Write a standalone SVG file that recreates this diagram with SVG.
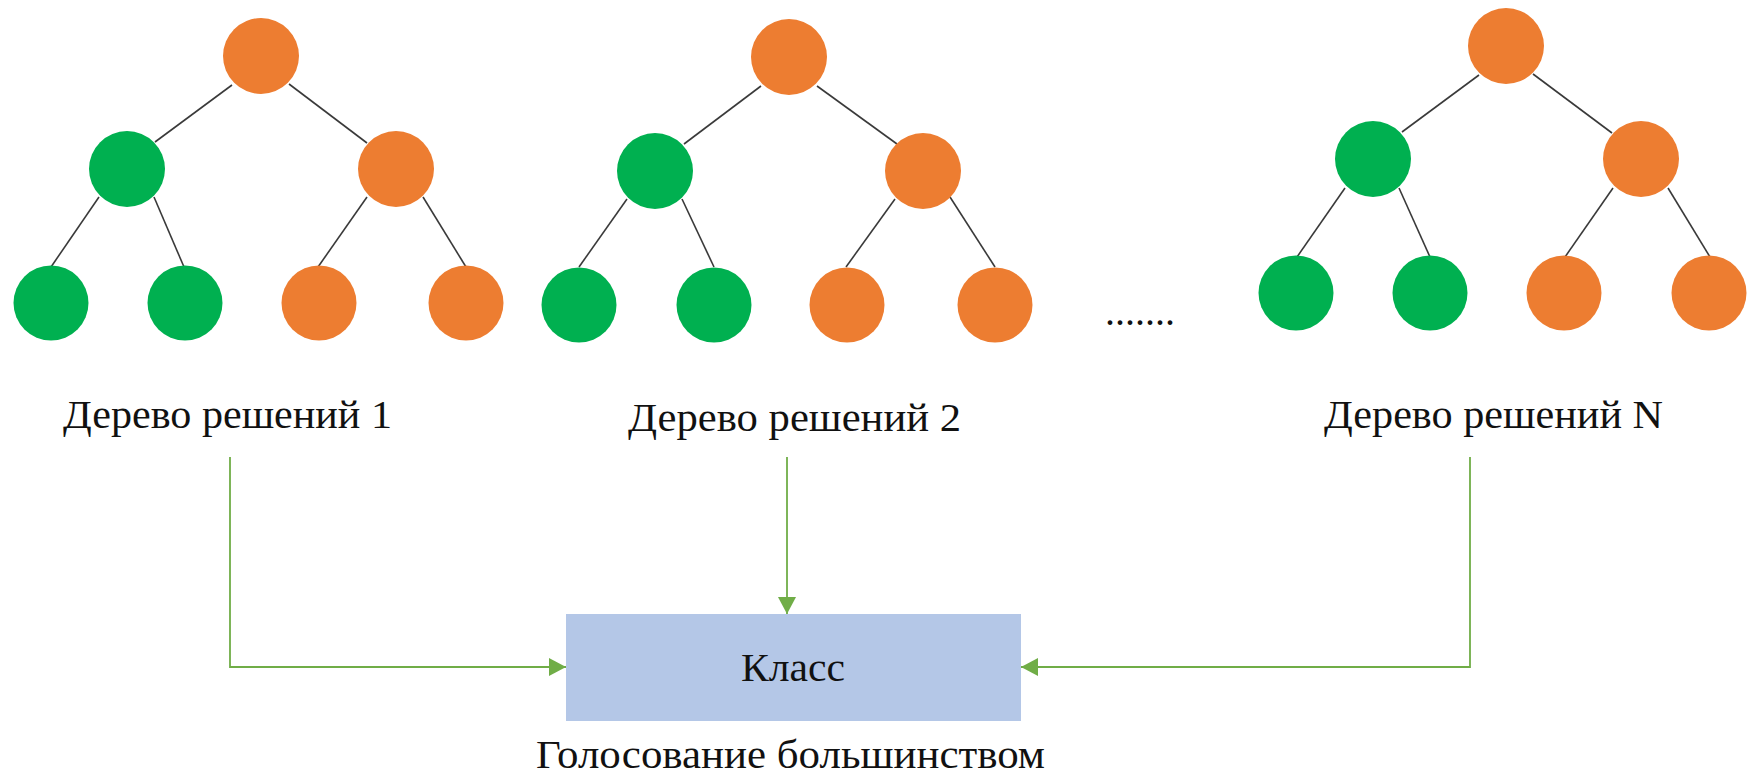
<svg xmlns="http://www.w3.org/2000/svg" width="1747" height="775" viewBox="0 0 1747 775">
<defs>
<style>
.e{stroke:#3a3a3a;stroke-width:1.6;fill:none}
.o{fill:#ED7D31}
.g{fill:#00B050}
.c{stroke:#70AD47;stroke-width:1.8;fill:none}
text{font-family:'Liberation Serif','DejaVu Serif','Noto Serif',serif;font-size:40px;fill:#111}
</style>
<marker id="ah" markerWidth="18" markerHeight="18" refX="17" refY="9" orient="auto" markerUnits="userSpaceOnUse">
<path d="M0,0 L17,9 L0,18 Z" fill="#70AD47"/>
</marker>
</defs>
<rect width="1747" height="775" fill="#fff"/>

<g id="tree1">
<g class="e">
<line x1="232" y1="85" x2="155" y2="142"/>
<line x1="289" y1="84" x2="367" y2="143"/>
<line x1="99" y1="197" x2="51" y2="267"/>
<line x1="154" y1="197" x2="184" y2="267"/>
<line x1="367" y1="197" x2="318" y2="267"/>
<line x1="423" y1="197" x2="466" y2="267"/>
</g>
<circle class="o" cx="261" cy="56" r="38"/>
<circle class="g" cx="127" cy="169" r="38"/>
<circle class="o" cx="396" cy="169" r="38"/>
<circle class="g" cx="51" cy="303" r="37.5"/>
<circle class="g" cx="185" cy="303" r="37.5"/>
<circle class="o" cx="319" cy="303" r="37.5"/>
<circle class="o" cx="466" cy="303" r="37.5"/>
</g>

<g id="tree2">
<g class="e">
<line x1="761" y1="86" x2="684" y2="144"/>
<line x1="817" y1="86" x2="897" y2="144"/>
<line x1="627" y1="199" x2="579" y2="267"/>
<line x1="682" y1="199" x2="714" y2="267"/>
<line x1="895" y1="199" x2="846" y2="267"/>
<line x1="950" y1="197" x2="995" y2="267"/>
</g>
<circle class="o" cx="789" cy="57" r="38"/>
<circle class="g" cx="655" cy="171" r="38"/>
<circle class="o" cx="923" cy="171" r="38"/>
<circle class="g" cx="579" cy="305" r="37.5"/>
<circle class="g" cx="714" cy="305" r="37.5"/>
<circle class="o" cx="847" cy="305" r="37.5"/>
<circle class="o" cx="995" cy="305" r="37.5"/>
</g>

<g id="tree3">
<g class="e">
<line x1="1479" y1="75" x2="1402" y2="132"/>
<line x1="1533" y1="74" x2="1612" y2="133"/>
<line x1="1345" y1="188" x2="1297" y2="257"/>
<line x1="1399" y1="188" x2="1430" y2="257"/>
<line x1="1613" y1="188" x2="1565" y2="257"/>
<line x1="1668" y1="188" x2="1710" y2="257"/>
</g>
<circle class="o" cx="1506" cy="46" r="38"/>
<circle class="g" cx="1373" cy="159" r="38"/>
<circle class="o" cx="1641" cy="159" r="38"/>
<circle class="g" cx="1296" cy="293" r="37.5"/>
<circle class="g" cx="1430" cy="293" r="37.5"/>
<circle class="o" cx="1564" cy="293" r="37.5"/>
<circle class="o" cx="1709" cy="293" r="37.5"/>
</g>

<g id="ellipsis">
<text x="1105" y="325" textLength="70" lengthAdjust="spacing">.......</text>
</g>

<g id="label1"><text font-family="Liberation Serif, DejaVu Serif, serif" x="63" y="428" textLength="329" lengthAdjust="spacingAndGlyphs">Дерево решений 1</text></g>
<g id="label2"><text font-family="Liberation Serif, DejaVu Serif, serif" x="628" y="431" textLength="333" lengthAdjust="spacingAndGlyphs">Дерево решений 2</text></g>
<g id="labelN"><text font-family="Liberation Serif, DejaVu Serif, serif" x="1324" y="428" textLength="339" lengthAdjust="spacingAndGlyphs">Дерево решений N</text></g>

<g id="class-box">
<rect x="566" y="614" width="455" height="107" fill="#B4C7E7"/>
<text font-family="Liberation Serif, DejaVu Serif, serif" x="741" y="681" textLength="104" lengthAdjust="spacingAndGlyphs">Класс</text>
</g>
<g id="vote-label"><text font-family="Liberation Serif, DejaVu Serif, serif" x="536" y="768" textLength="509" lengthAdjust="spacingAndGlyphs">Голосование большинством</text></g>

<g id="connectors">
<path class="c" d="M230,457 V667 H566" marker-end="url(#ah)"/>
<path class="c" d="M787,457 V614" marker-end="url(#ah)"/>
<path class="c" d="M1470,457 V667 H1021" marker-end="url(#ah)"/>
</g>
</svg>
